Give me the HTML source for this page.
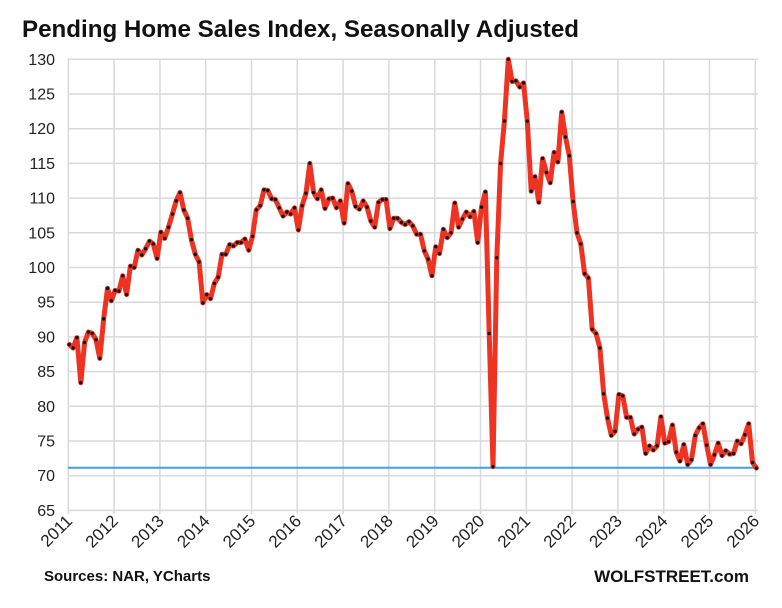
<!DOCTYPE html>
<html><head><meta charset="utf-8"><style>
html,body{margin:0;padding:0;background:#fff;}
svg{display:block;font-family:"Liberation Sans",Arial,sans-serif;}
</style></head><body>
<svg id="s" width="782" height="608" xmlns="http://www.w3.org/2000/svg">
<rect width="782" height="608" fill="#fff"/>
<text x="22" y="37" font-size="24" font-weight="bold" fill="#111" textLength="557" lengthAdjust="spacingAndGlyphs">Pending Home Sales Index, Seasonally Adjusted</text>
<g id="grid"></g>
<g id="labels" font-size="16" fill="#222"></g>
<line x1="68" x2="758" y1="467.7" y2="467.7" stroke="#3aa3e3" stroke-width="2"/>
<polyline id="line" fill="none" stroke="#ee3322" stroke-width="5" stroke-linejoin="round" stroke-linecap="round"/>
<g id="dots" fill="#111"></g>
<text x="44" y="581" font-size="15" font-weight="bold" fill="#111">Sources: NAR, YCharts</text>
<text x="749" y="582" font-size="17" font-weight="bold" fill="#111" text-anchor="end">WOLFSTREET.com</text>
</svg>
<script>
var d=[88.9,88.4,89.9,83.4,89.2,90.7,90.5,89.6,86.9,92.6,97.0,95.2,
96.7,96.6,98.8,96.1,100.2,100.0,102.5,101.8,102.7,103.8,103.4,101.3,
105.1,104.2,105.8,107.7,109.6,110.8,108.3,107.1,104.0,101.9,100.8,94.9,
96.1,95.5,97.7,98.6,101.9,101.9,103.3,103.1,103.6,103.6,104.1,102.5,
104.5,108.3,108.9,111.2,111.1,109.9,109.8,108.6,107.4,108.0,107.7,108.6,
105.4,108.9,110.7,115.0,110.8,109.9,111.2,108.5,109.9,110.0,108.6,109.6,
106.4,112.1,111.0,108.8,108.4,109.6,108.7,106.7,105.8,109.4,109.8,109.8,
105.6,107.1,107.1,106.5,106.2,106.6,106.0,104.8,104.8,102.4,101.2,98.8,
103.0,102.0,105.5,104.3,105.0,109.3,105.8,107.0,108.0,107.3,108.1,103.6,
108.7,110.9,90.5,71.3,101.4,115.0,121.1,130.0,126.8,126.9,126.0,126.6,
121.1,111.0,113.1,109.4,115.7,113.7,112.2,116.6,115.2,122.4,118.8,116.1,
109.5,105.0,103.4,99.1,98.5,91.1,90.5,88.4,81.8,78.3,75.8,76.4,
81.7,81.5,78.4,78.4,76.0,76.7,77.0,73.2,74.3,73.7,74.3,78.5,
74.7,74.9,77.3,73.4,72.1,74.5,71.6,72.3,75.8,76.9,77.5,74.4,
71.6,73.0,74.7,72.9,73.6,73.1,73.2,75.0,74.6,75.9,77.5,71.9,71.1];
var NS="http://www.w3.org/2000/svg";
function el(t,a,p,txt){var e=document.createElementNS(NS,t);for(var k in a)e.setAttribute(k,a[k]);if(txt)e.textContent=txt;document.getElementById(p).appendChild(e);return e;}
function Y(v){return 59.3+(130-v)*6.94;}
for(var v=65;v<=130;v+=5){var y=Y(v);el("line",{x1:68,x2:758,y1:y,y2:y,stroke:"#d9d9d9","stroke-width":1.5},"grid");
el("text",{x:55,y:y+5.5,"text-anchor":"end"},"labels",""+v);}
for(var i=0;i<=15;i++){var x=68.3+45.8*i;el("line",{x1:x,x2:x,y1:59,y2:514,stroke:"#d9d9d9","stroke-width":1.5},"grid");
el("text",{x:x+5,y:522,"text-anchor":"end","font-size":17,transform:"rotate(-45 "+(x+5)+" 522)"},"labels",""+(2011+i));}
var pts=[];for(var i=0;i<d.length;i++){var x=69.3+3.817*i,y=Y(d[i]);pts.push(x.toFixed(1)+","+y.toFixed(1));
el("circle",{cx:x,cy:y,r:1.7},"dots");}
document.getElementById("line").setAttribute("points",pts.join(" "));
</script>
</body></html>
